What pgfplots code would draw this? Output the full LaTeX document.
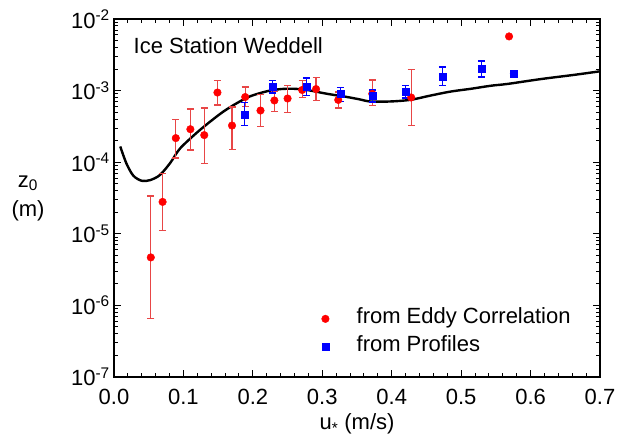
\documentclass[border=0pt]{standalone}
\usepackage{fontspec}
\setmainfont{Liberation Sans}
\usepackage{pgfplots}
\pgfplotsset{compat=1.18}
\newcommand{\bigf}{\fontsize{22}{26}\selectfont}
\definecolor{errred}{RGB}{232,70,70}
\begin{document}
\begin{tikzpicture}
\begin{axis}[
  scale only axis, width=486pt, height=358pt,
  xmin=0, xmax=0.7, ymode=log, ymin=1e-7, ymax=1e-2,
  xtick={0,0.1,0.2,0.3,0.4,0.5,0.6,0.7},
  xticklabels={0.0,0.1,0.2,0.3,0.4,0.5,0.6,0.7},
  minor x tick num=4,
  ytick={1e-7,1e-6,1e-5,1e-4,1e-3,1e-2},
  yticklabels={10\textsuperscript{-7},10\textsuperscript{-6},10\textsuperscript{-5},10\textsuperscript{-4},10\textsuperscript{-3},10\textsuperscript{-2}},
  tick align=inside, major tick length=7pt, minor tick length=4pt,
  every tick/.style={black, line width=1pt},
  axis line style={line width=1.5pt},
  ticklabel style={font=\bigf},
  xticklabel style={inner sep=0pt}, xticklabel shift=12pt,
  yticklabel style={inner sep=0pt}, yticklabel shift=4pt,
  xlabel={u\textsubscript{*} (m/s)},
  xlabel style={font=\bigf, at={(axis description cs:0.5,0)}, anchor=center, yshift=-47pt},
  ylabel={z\textsubscript{0}\\[3pt](m)},
  ylabel style={font=\bigf, align=center, at={(axis description cs:0,0.5)}, anchor=center, rotate=-90, xshift=-86pt},
  legend style={at={(rel axis cs:0.426,0.124)}, anchor=west, draw=none, fill=none, inner sep=0pt,
    font=\bigf, row sep=7.5pt, nodes={inner sep=0pt, text height=15pt, text depth=5pt}},
  legend cell align=left,
  legend image code/.code={\path (-4pt,0pt) (31pt,0pt); \draw[#1] plot coordinates {(0pt,0pt)};},
]
% curve
\addplot[black, line width=2.4pt, smooth, forget plot] coordinates {
(0.009,1.66e-4) (0.018,9.55e-5) (0.028,6.46e-5) (0.040,5.50e-5) (0.052,5.62e-5)
(0.066,6.61e-5) (0.081,9.77e-5) (0.095,1.55e-4) (0.119,2.57e-4) (0.139,3.72e-4)
(0.158,5.13e-4) (0.177,6.68e-4) (0.196,8.32e-4) (0.220,9.77e-4) (0.240,1.05e-3)
(0.259,1.06e-3) (0.278,1.02e-3) (0.307,9.02e-4) (0.336,8.13e-4) (0.355,7.50e-4)
(0.369,7.05e-4) (0.398,7.05e-4) (0.427,7.43e-4) (0.456,8.53e-4) (0.485,9.70e-4)
(0.514,1.06e-3) (0.543,1.17e-3) (0.567,1.24e-3) (0.615,1.45e-3) (0.663,1.66e-3)
(0.700,1.86e-3)
};
% eddy correlation
\addplot[only marks, mark=*, mark size=3.8pt, color=red,
  error bars/.cd, y dir=both, y explicit,
  error bar style={line width=1.3pt, errred},
  error mark options={rotate=90, mark size=3.5pt, line width=1.3pt, errred}]
table[x=x, y=y, y error plus=ep, y error minus=em] {
x y ep em
0.053 4.68e-6 2.92e-5 4.02e-6
0.070 2.79e-5 4.13e-5 1.69e-5
0.089 2.17e-4 1.81e-4 1.03e-4
0.110 2.89e-4 2.67e-4 1.41e-4
0.130 2.39e-4 3.30e-4 1.43e-4
0.149 9.40e-4 4.40e-4 3.09e-4
0.170 3.25e-4 2.64e-4 1.74e-4
0.189 8.13e-4 3.10e-4 2.10e-4
0.211 5.27e-4 3.64e-4 2.11e-4
0.231 7.28e-4 2.49e-4 2.15e-4
0.250 7.76e-4 3.99e-4 2.86e-4
0.271 1.02e-3 3.60e-4 2.10e-4
0.291 1.05e-3 4.60e-4 3.30e-4
0.323 7.41e-4 2.14e-4 1.72e-4
0.372 9.02e-4 5.10e-4 2.85e-4
0.428 8.02e-4 1.15e-3 4.78e-4
0.569 5.71e-3 0 0
};
\addlegendentry{from Eddy Correlation}
% profiles
\addplot[only marks, mark=square*, mark size=3.5pt, color=blue,
  error bars/.cd, y dir=both, y explicit,
  error bar style={line width=1.5pt, blue},
  error mark options={rotate=90, mark size=3.5pt, line width=1.5pt, blue}]
table[x=x, y=y, y error plus=ep, y error minus=em] {
x y ep em
0.188 4.68e-4 2.14e-4 1.44e-4
0.228 1.12e-3 2.60e-4 2.00e-4
0.277 1.12e-3 3.90e-4 2.70e-4
0.326 8.91e-4 2.10e-4 1.83e-4
0.372 8.51e-4 1.70e-4 1.59e-4
0.420 9.55e-4 2.20e-4 1.61e-4
0.473 1.58e-3 5.60e-4 4.10e-4
0.529 2.00e-3 5.70e-4 4.50e-4
0.575 1.72e-3 0 0
};
\addlegendentry{from Profiles}
\node[anchor=base west, inner sep=0pt, font=\bigf] at (rel axis cs:0.04,0.905) {Ice Station Weddell};
\end{axis}
\path ([shift={(-114pt,-63pt)}]current axis.south west) rectangle ([shift={(24pt,19pt)}]current axis.north east);
\end{tikzpicture}
\end{document}
